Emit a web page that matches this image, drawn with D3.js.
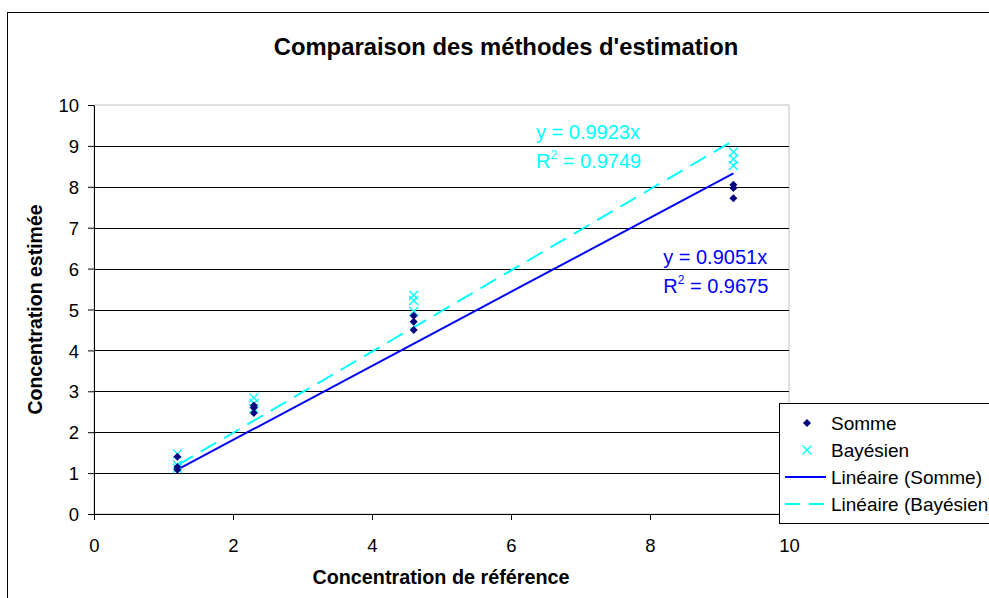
<!DOCTYPE html>
<html>
<head>
<meta charset="utf-8">
<script src="https://cdn.jsdelivr.net/npm/d3@7"></script>
<style>
  body { margin: 0; background: #fff; }
  svg { display: block; font-family: Arial, "Liberation Sans", sans-serif; }
</style>
</head>
<body>
<div class="chart-container"></div>
<script>
// reference concentrations, 3 replicates each
const refX = [1.2, 1.2, 1.2, 2.3, 2.3, 2.3, 4.6, 4.6, 4.6, 9.2, 9.2, 9.2];
const sommeY = [1.4, 1.15, 1.08, 2.65, 2.6, 2.47, 4.85, 4.7, 4.5, 8.05, 7.97, 7.72];
const bayesY = [1.47, 1.2, 1.12, 2.84, 2.7, 2.58, 5.35, 5.22, 4.95, 8.85, 8.68, 8.52];

const slopes = [0.9051, 0.9923];
const r2 = ['0.9675', '0.9749'];
const xTicks = [0, 2, 4, 6, 8, 10];
const yTicks = [0, 1, 2, 3, 4, 5, 6, 7, 8, 9, 10];
const legendLabels = ['Somme', 'Bayésien', 'Linéaire (Somme)', 'Linéaire (Bayésien)'];

const width = 989, height = 598;
const navy = '#000080', blue = '#0000ff', cyan = '#00ffff';

const svg = d3.select('.chart-container')
.append('svg')
.attr('width', width)
.attr('height', height);

// outer chart border
svg.append('rect')
.attr('x', 7.5).attr('y', 12.5)
.attr('width', 1000).attr('height', 700)
.attr('fill', '#fff')
.attr('stroke', '#000')
.attr('stroke-width', 1);

const x = d3.scaleLinear().domain([0, 10]).range([94, 789]);
const y = d3.scaleLinear().domain([0, 10]).range([514, 105]);

// plot area border (grey)
svg.append('rect')
.attr('x', x(0)).attr('y', y(10))
.attr('width', x(10) - x(0)).attr('height', y(0) - y(10))
.attr('fill', 'none')
.attr('stroke', '#c0c0c0')
.attr('stroke-width', 1);

// gridlines
svg.append('g')
.selectAll('line')
.data(yTicks.filter(d => d > 0 && d < 10))
.enter()
.append('line')
.attr('x1', x(0)).attr('x2', x(10))
.attr('y1', d => Math.round(y(d)) + 0.5)
.attr('y2', d => Math.round(y(d)) + 0.5)
.attr('stroke', '#000')
.attr('stroke-width', 1);

// axes
const yAxis = svg.append('g')
.attr('transform', `translate(${x(0)},0)`)
.call(d3.axisLeft(y).tickValues(yTicks).tickSize(6).tickPadding(9).tickSizeOuter(0));

const xAxis = svg.append('g')
.attr('transform', `translate(0,${y(0)})`)
.call(d3.axisBottom(x).tickValues(xTicks).tickSize(6).tickPadding(19).tickSizeOuter(0));

[xAxis, yAxis].forEach(a => {
	a.selectAll('text').attr('font-size', 18.5).attr('fill', '#000').attr('font-family', 'Arial, "Liberation Sans", sans-serif');
	a.selectAll('line, path').attr('stroke', '#000');
})
yAxis.selectAll('text').attr('dy', '0.36em');

// trendlines through origin, drawn over the data range
const xmin = d3.min(refX), xmax = d3.max(refX);
const trendStyles = [
	{ color: blue, dash: null },
	{ color: cyan, dash: '18,9' }
];

slopes.forEach((s, i) => {
	svg.append('line')
	.attr('x1', x(xmin)).attr('y1', y(s * xmin))
	.attr('x2', x(xmax)).attr('y2', y(s * xmax))
	.attr('stroke', trendStyles[i].color)
	.attr('stroke-width', 2)
	.attr('stroke-dasharray', trendStyles[i].dash);
})

// Bayésien markers (x)
const bayes = svg.append('g');
refX.forEach((d, i) => {
	const cx = x(d), cy = y(bayesY[i]);
	bayes.append('path')
	.attr('d', `M${cx - 4.5},${cy - 4.5}L${cx + 4.5},${cy + 4.5}M${cx - 4.5},${cy + 4.5}L${cx + 4.5},${cy - 4.5}`)
	.attr('stroke', cyan)
	.attr('stroke-width', 1.3)
	.attr('fill', 'none');
})

// Somme markers (diamond)
svg.append('g')
.selectAll('path')
.data(refX.map((d, i) => [d, sommeY[i]]))
.enter()
.append('path')
.attr('transform', d => `translate(${x(d[0])},${y(d[1])})`)
.attr('d', 'M0,-4L4,0L0,4L-4,0Z')
.attr('fill', navy);

// equation labels
const eqPos = [[8.19, 6.11], [6.36, 9.17]];
const eqColors = [blue, cyan];
slopes.forEach((s, i) => {
	const g = svg.append('g')
	.attr('fill', eqColors[i])
	.attr('font-size', 20);

	g.append('text')
	.attr('x', x(eqPos[i][0])).attr('y', y(eqPos[i][1]))
	.text(`y = ${s}x`);

	const t = g.append('text')
	.attr('x', x(eqPos[i][0])).attr('y', y(eqPos[i][1]) + 29);
	t.append('tspan').text('R');
	t.append('tspan').attr('font-size', 12).attr('dy', -9).text('2');
	t.append('tspan').attr('dy', 9).text(` = ${r2[i]}`);
})

// titles
svg.append('text')
.attr('x', 506).attr('y', 55)
.attr('text-anchor', 'middle')
.attr('font-size', 23.8)
.attr('font-weight', 'bold')
.text("Comparaison des méthodes d'estimation");

svg.append('text')
.attr('x', 441).attr('y', 584)
.attr('text-anchor', 'middle')
.attr('font-size', 19.8)
.attr('font-weight', 'bold')
.text('Concentration de référence');

svg.append('text')
.attr('transform', `translate(42,${(y(0) + y(10)) / 2}) rotate(-90)`)
.attr('text-anchor', 'middle')
.attr('font-size', 19.5)
.attr('font-weight', 'bold')
.text('Concentration estimée');

// legend
const legend = svg.append('g').attr('transform', 'translate(779,403)');
legend.append('rect')
.attr('x', 0.5).attr('y', 0.5)
.attr('width', 260).attr('height', 120)
.attr('fill', '#fff')
.attr('stroke', '#000');

legendLabels.forEach((lab, i) => {
	const cy = 20 + i * 27;
	if (i === 0) {
		legend.append('path')
		.attr('transform', `translate(28,${cy})`)
		.attr('d', 'M0,-4L4,0L0,4L-4,0Z')
		.attr('fill', navy);
	} else if (i === 1) {
		legend.append('path')
		.attr('d', `M23.5,${cy - 4.5}L32.5,${cy + 4.5}M23.5,${cy + 4.5}L32.5,${cy - 4.5}`)
		.attr('stroke', cyan).attr('stroke-width', 1.3);
	} else {
		legend.append('line')
		.attr('x1', 6).attr('x2', 47)
		.attr('y1', cy).attr('y2', cy)
		.attr('stroke', trendStyles[i - 2].color)
		.attr('stroke-width', 2)
		.attr('stroke-dasharray', trendStyles[i - 2].dash ? '15,9' : null);
	}
	legend.append('text')
	.attr('x', 52).attr('y', cy + 7)
	.attr('font-size', 19)
	.text(lab);
})
</script>
</body>
</html>
